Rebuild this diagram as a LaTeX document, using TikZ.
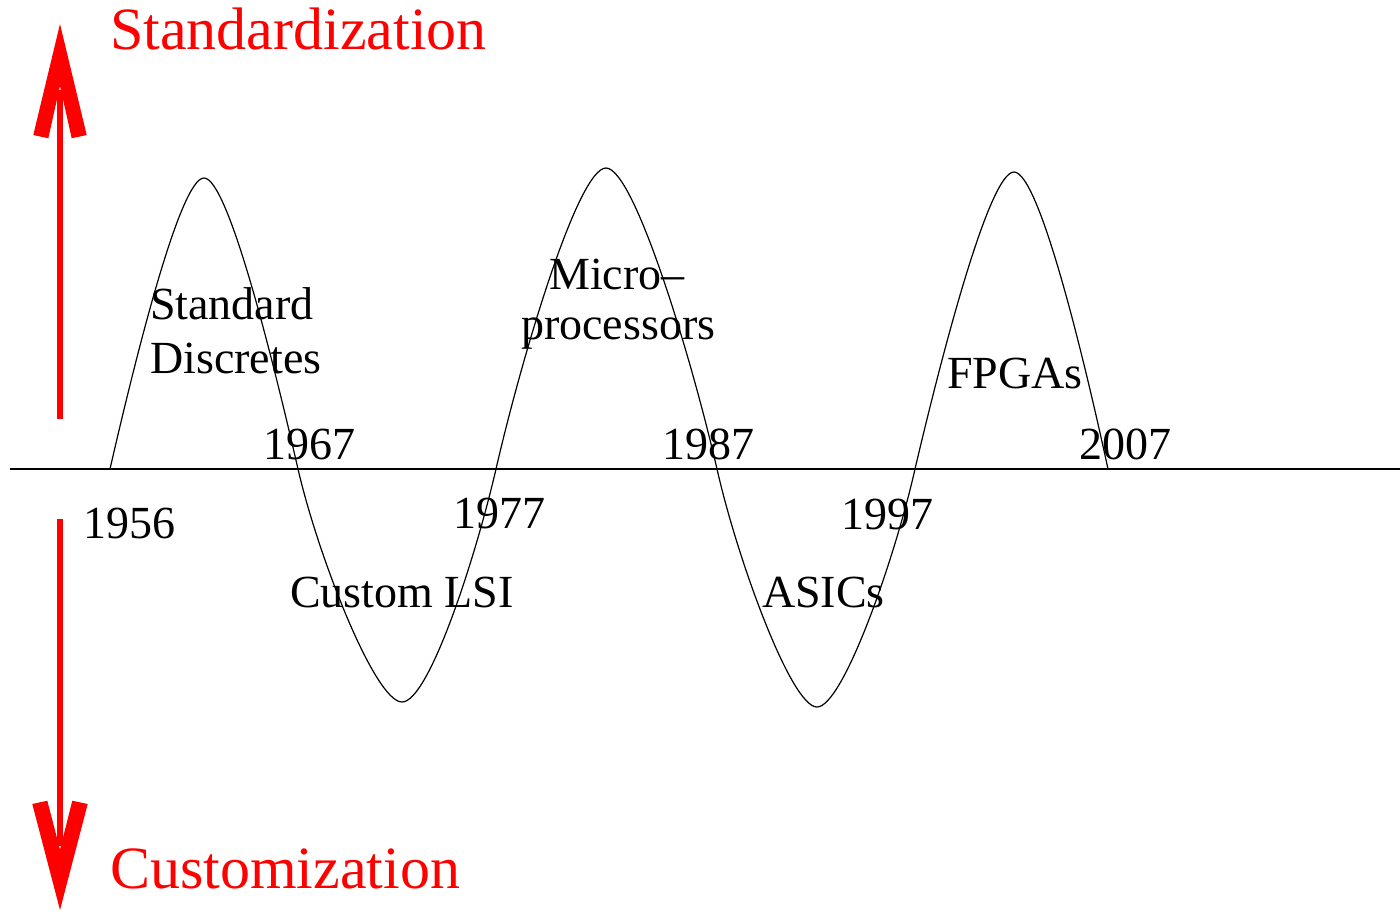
\documentclass[tikz,border=0pt]{standalone}
\usepackage{fontspec}
\setmainfont{Liberation Serif}
\usetikzlibrary{calc}
\begin{document}
\begin{tikzpicture}[x=1pt,y=-1pt,
  lbl/.style={anchor=base west,inner sep=0pt,font=\fontsize{46}{55}\selectfont},
  axislbl/.style={anchor=base west,inner sep=0pt,text=red,font=\fontsize{60}{72}\selectfont},
  wave/.style={line width=1.2pt,line join=round},
  shaft/.style={red,line width=6.6pt}]
\useasboundingbox (0,0) rectangle (1400,911);

% time axis
\coordinate (axL) at (10,469);
\coordinate (axR) at (1400,469);
\draw[line width=1.4pt] (axL) -- (axR);

% standardization / customization swing
\draw[wave] (110,469)
  .. controls (135,360) and (180,178) .. (204,178)
  .. controls (228,178) and (273,360) .. (298,469)
  .. controls (318,556) and (375,702) .. (402,702)
  .. controls (429,702) and (476,556) .. (496,469)
  .. controls (522,356) and (578,168) .. (606,168)
  .. controls (634,168) and (691,356) .. (717,469)
  .. controls (737,558) and (791,707) .. (817,707)
  .. controls (843,707) and (895,558) .. (915,469)
  .. controls (941,358) and (989,172) .. (1014,172)
  .. controls (1039,172) and (1084,358) .. (1108,469);

% direction arrows
\coordinate (uptail) at (60,419);
\coordinate (uptip) at (60,24);
\coordinate (dntail) at (60,519);
\coordinate (dntip) at (60,910);
\draw[shaft] (uptail) -- ($(uptip)+(0,66)$);
\fill[red] (uptip) -- ++(26.7,111) -- ++(-15,3.3) -- ++(-11.7,-52.6)
  -- ++(-11.7,52.6) -- ++(-15,-3.3) -- cycle;
\draw[shaft] (dntail) -- ($(dntip)+(0,-64)$);
\fill[red] (dntip) -- ++(27.7,-106) -- ++(-15.4,-3.3) -- ++(-12.3,48.9)
  -- ++(-12.7,-48.9) -- ++(-15,3.3) -- cycle;

\node[axislbl] (std) at (110,49) {Standardization};
\node[axislbl] (cus) at (110,888) {Customization};

% eras
\node[lbl] (sd1) at (150,319) {Standard};
\node[lbl] (sd2) at (150,373) {Discretes};
\node[lbl] (lsi) at (290,607) {Custom LSI};
\node[lbl] (mp1) at (549,289) {Micro--};
\node[lbl] (mp2) at (521,339) {processors};
\node[lbl] (asic) at (762,607) {ASICs};
\node[lbl] (fpga) at (947,388) {FPGAs};

% years
\node[lbl] (y56) at (83,538) {1956};
\node[lbl] (y67) at (263,459) {1967};
\node[lbl] (y77) at (453,528) {1977};
\node[lbl] (y87) at (662,459) {1987};
\node[lbl] (y97) at (841,529) {1997};
\node[lbl] (y07) at (1079,459) {2007};
\end{tikzpicture}
\end{document}
